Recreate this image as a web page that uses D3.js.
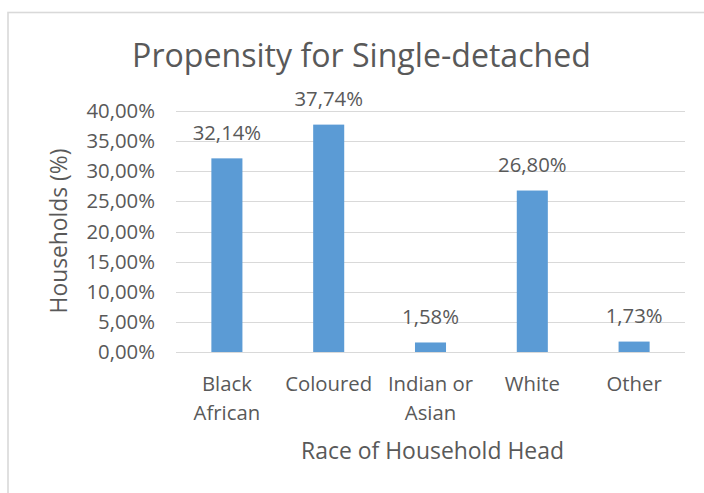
<!DOCTYPE html>
<html>
<head>
<meta charset="utf-8">
<script src="https://cdn.jsdelivr.net/npm/d3@7"></script>
<style>
  html, body { margin: 0; padding: 0; background: #fff; }
  svg { display: block; }
  text { font-family: "Open Sans", "Noto Sans", sans-serif; fill: #595959; }
</style>
</head>
<body>
<svg id="chart" width="704" height="493"></svg>
<script>
const categories = ["Black African", "Coloured", "Indian or Asian", "White", "Other"];
const categoryLines = [["Black", "African"], ["Coloured"], ["Indian or", "Asian"], ["White"], ["Other"]];
const values = [32.14, 37.74, 1.58, 26.80, 1.73];
const valueLabels = ["32,14%", "37,74%", "1,58%", "26,80%", "1,73%"];
const yTicks = [0, 5, 10, 15, 20, 25, 30, 35, 40];
const yTickLabels = ["0,00%", "5,00%", "10,00%", "15,00%", "20,00%", "25,00%", "30,00%", "35,00%", "40,00%"];
const title = "Propensity for Single-detached";
const xTitle = "Race of Household Head";
const yTitle = "Households (%)";

const svg = d3.select("#chart");
svg.append("rect").attr("width", 704).attr("height", 493).attr("fill", "#fff");

// chart border (outer frame)
svg.append("rect")
  .attr("x", 8).attr("y", 12.5).attr("width", 760).attr("height", 560)
  .attr("fill", "none").attr("stroke", "#d9d9d9").attr("stroke-width", 1.6);

const plotLeft = 176, plotRight = 685;
const x = d3.scaleBand().domain(categories).range([plotLeft, plotRight])
  .paddingInner(0.695).paddingOuter(0.3475);
const y = d3.scaleLinear().domain([0, 40]).range([352, 111]);

function fitFont(sel, text, target, base) {
  const t = sel.append("text").attr("font-size", base).text(text);
  const w = t.node().getComputedTextLength();
  t.remove();
  return base * target / w;
}

const labelSize = fitFont(svg, "Coloured", 87, 19);
const titleSize = fitFont(svg, title, 459, 30);
const xTitleSize = fitFont(svg, xTitle, 263, 19);
const yTitleSize = fitFont(svg, yTitle, 165, 19);

// gridlines
const grid = svg.append("g");
grid.selectAll("line").data(yTicks).join("line")
  .attr("x1", plotLeft).attr("x2", plotRight)
  .attr("y1", d => Math.round(y(d)) + 0.5).attr("y2", d => Math.round(y(d)) + 0.5)
  .attr("stroke", "#d9d9d9").attr("stroke-width", 1.2);

// y tick labels
svg.append("g").selectAll("text").data(yTicks).join("text")
  .attr("x", 155).attr("y", d => y(d))
  .attr("dy", "0.35em")
  .attr("text-anchor", "end")
  .attr("font-size", labelSize)
  .text((d, i) => yTickLabels[i]);

// bars
svg.append("g").selectAll("rect").data(values).join("rect")
  .attr("x", (d, i) => x(categories[i]))
  .attr("width", x.bandwidth())
  .attr("y", d => y(d))
  .attr("height", d => y(0) - y(d))
  .attr("fill", "#5b9bd5");

// data labels
svg.append("g").selectAll("text").data(values).join("text")
  .attr("x", (d, i) => x(categories[i]) + x.bandwidth() / 2)
  .attr("y", d => y(d) - 18.5)
  .attr("text-anchor", "middle")
  .attr("font-size", labelSize)
  .text((d, i) => valueLabels[i]);

// category labels
const cat = svg.append("g").selectAll("text").data(categories).join("text")
  .attr("text-anchor", "middle")
  .attr("font-size", labelSize);
cat.each(function(d, i) {
  const cx = x(d) + x.bandwidth() / 2;
  d3.select(this).selectAll("tspan").data(categoryLines[i]).join("tspan")
    .attr("x", cx)
    .attr("y", (l, j) => 391 + j * 29)
    .text(l => l);
});

// title
svg.append("text")
  .attr("x", (132 + 591) / 2).attr("y", 66.5)
  .attr("text-anchor", "middle")
  .attr("font-size", titleSize)
  .text(title);

// x axis title
svg.append("text")
  .attr("x", 432.5).attr("y", 458.5)
  .attr("text-anchor", "middle")
  .attr("font-size", xTitleSize)
  .text(xTitle);

// y axis title
svg.append("text")
  .attr("transform", "translate(67,231) rotate(-90)")
  .attr("text-anchor", "middle")
  .attr("font-size", yTitleSize)
  .text(yTitle);
</script>
</body>
</html>
